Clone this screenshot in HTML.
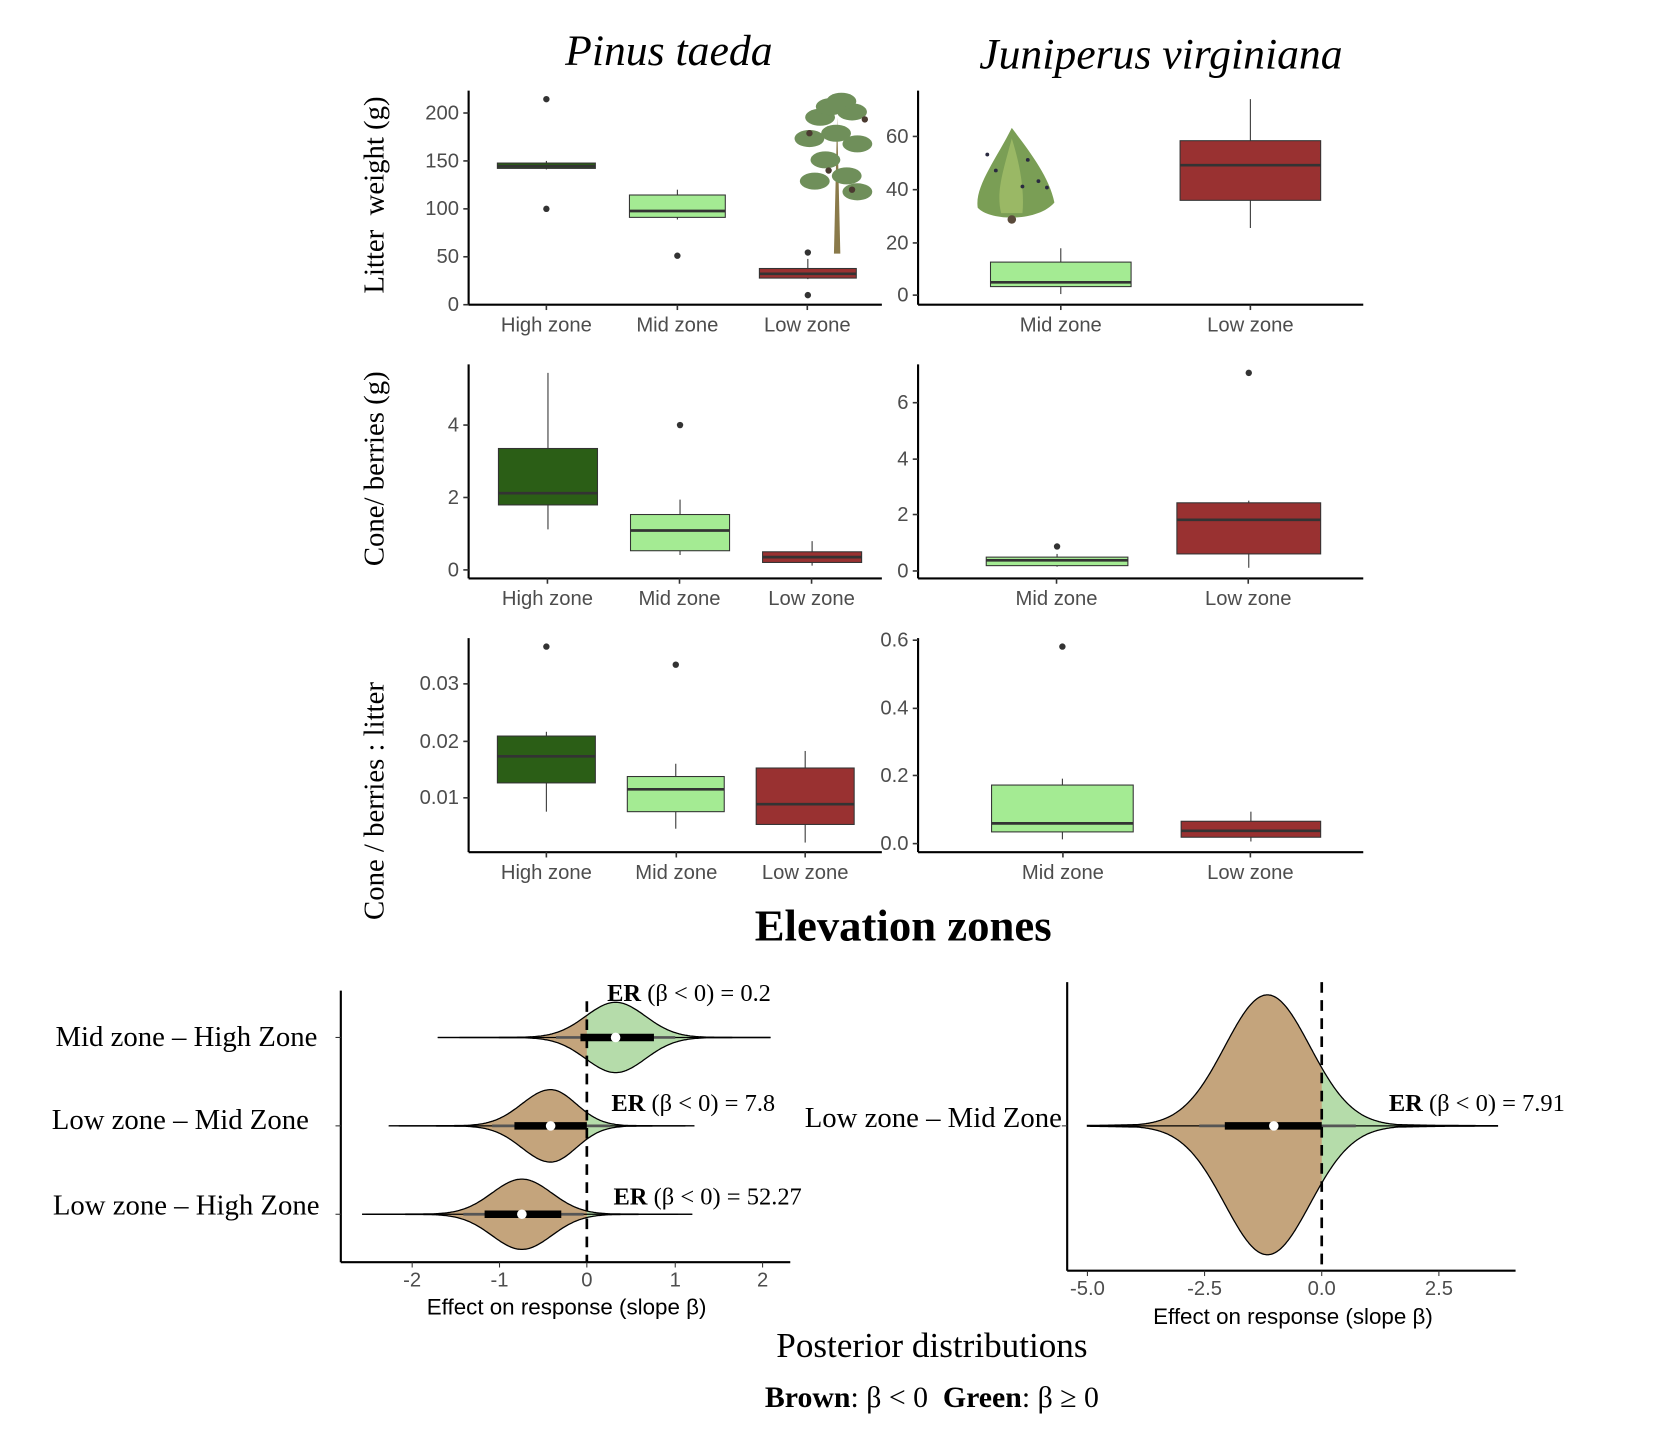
<!DOCTYPE html>
<html><head><meta charset="utf-8"><style>
html,body{margin:0;padding:0;background:#fff;}
svg{display:block;}
.t{font-family:"Liberation Sans",sans-serif;font-size:19px;fill:#4d4d4d;}
.s{font-family:"Liberation Serif",serif;fill:#000;}
.ax{font-family:"Liberation Sans",sans-serif;font-size:21px;fill:#000;}
</style></head><body>
<svg id="c" xmlns="http://www.w3.org/2000/svg" width="1670" height="1454" viewBox="0 0 1568 1365">
<rect width="1568" height="1365" fill="#fff"/>
<text class="s" x="628" y="61" font-size="41" font-style="italic" text-anchor="middle">Pinus taeda</text>
<text class="s" x="1090" y="64" font-size="41" font-style="italic" text-anchor="middle">Juniperus virginiana</text>
<text class="s" x="360" y="183" font-size="27" text-anchor="middle" transform="rotate(-90 360 183)" xml:space="preserve">Litter  weight (g)</text>
<text class="s" x="360" y="440" font-size="27" text-anchor="middle" transform="rotate(-90 360 440)">Cone/ berries (g)</text>
<text class="s" x="360" y="752" font-size="27" text-anchor="middle" transform="rotate(-90 360 752)">Cone / berries : litter</text>
<text class="s" x="848" y="883" font-size="42" font-weight="bold" text-anchor="middle">Elevation zones</text>
<text class="ax" x="532" y="1234" text-anchor="middle">Effect on response (slope β)</text>
<text class="ax" x="1214" y="1243" text-anchor="middle">Effect on response (slope β)</text>
<text class="s" x="875" y="1274" font-size="33" text-anchor="middle">Posterior distributions</text>
<text class="s" x="875" y="1321" font-size="28" text-anchor="middle" xml:space="preserve"><tspan font-weight="bold">Brown</tspan>: β &lt; 0  <tspan font-weight="bold">Green</tspan>: β ≥ 0</text>
<g class="s" font-size="27" text-anchor="end">
<text x="298" y="982">Mid zone – High Zone</text>
<text x="290" y="1060">Low zone – Mid Zone</text>
<text x="300" y="1140">Low zone – High Zone</text>
<text x="997" y="1058">Low zone – Mid Zone</text>
</g>
<g class="s" font-size="23">
<text x="570" y="940"><tspan font-weight="bold">ER</tspan> (β &lt; 0) = 0.2</text>
<text x="574" y="1043"><tspan font-weight="bold">ER</tspan> (β &lt; 0) = 7.8</text>
<text x="576" y="1131"><tspan font-weight="bold">ER</tspan> (β &lt; 0) = 52.27</text>
<text x="1304" y="1043"><tspan font-weight="bold">ER</tspan> (β &lt; 0) = 7.91</text>
</g>
</svg>
<script>
const S=document.getElementById('c'),NS='http://www.w3.org/2000/svg';
function el(t,a,txt){const e=document.createElementNS(NS,t);for(const k in a)e.setAttribute(k,a[k]);if(txt!==undefined)e.textContent=txt;S.appendChild(e);return e;}
function axes(x0,y0,yTop,xEnd,yt,xt){
 el('line',{x1:x0,y1:yTop,x2:x0,y2:y0,stroke:'#000','stroke-width':2});
 el('line',{x1:x0,y1:y0,x2:xEnd,y2:y0,stroke:'#000','stroke-width':2});
 yt.forEach(([l,y])=>{el('line',{x1:x0-5,y1:y,x2:x0,y2:y,stroke:'#333','stroke-width':1.5});el('text',{class:'t',x:x0-9,y:y+6,'text-anchor':'end'},l);});
 xt.forEach(([l,x])=>{el('line',{x1:x,y1:y0,x2:x,y2:y0+5,stroke:'#333','stroke-width':1.5});el('text',{class:'t',x:x,y:y0+25,'text-anchor':'middle'},l);});
}
function box(x1,x2,y1,y2,med,w1,w2,col,outs){
 const cx=(x1+x2)/2;
 el('line',{x1:cx,y1:w1,x2:cx,y2:w2,stroke:'#333','stroke-width':1});
 el('rect',{x:x1,y:y1,width:x2-x1,height:y2-y1,fill:col,stroke:'#333','stroke-width':1});
 el('line',{x1:x1,y1:med,x2:x2,y2:med,stroke:'#333','stroke-width':2.5});
 (outs||[]).forEach(y=>el('circle',{cx:cx,cy:y,r:3,fill:'#333'}));
}
const DG='#2b5e16',LG='#a4eb93',RD='#993131';
axes(440,286,85,828,[['200',106],['150',151],['100',196],['50',241],['0',286]],[['High zone',513],['Mid zone',636],['Low zone',758]]);
box(467,559,153,158,156,151,159,DG,[93,196]);
box(591,681,183,204,198,178,206,LG,[240]);
box(713,804,252,261,257,243,262,RD,[237,277]);
axes(862,286,85,1280,[['60',128],['40',178],['20',228],['0',277]],[['Mid zone',996],['Low zone',1174]]);
box(930,1062,246,269,265,233,276,LG,[]);
box(1108,1240,132,188,155,93,214,RD,[]);
axes(440,543,342,828,[['4',399],['2',467],['0',535]],[['High zone',514],['Mid zone',638],['Low zone',762]]);
box(468,561,421,474,463,350,497,DG,[]);
box(592,685,483,517,498,469,521,LG,[399]);
box(716,809,518,528,523,508,531,RD,[]);
axes(862,543,342,1280,[['6',378],['4',431],['2',483],['0',536]],[['Mid zone',992],['Low zone',1172]]);
box(926,1059,523,531,526,520,532,LG,[513]);
box(1105,1240,472,520,488,470,533,RD,[350]);
axes(440,800,599,828,[['0.03',642],['0.02',696],['0.01',749]],[['High zone',513],['Mid zone',635],['Low zone',756]]);
box(467,559,691,735,710,687,762,DG,[607]);
box(589,680,729,762,741,717,778,LG,[624]);
box(710,802,721,774,755,705,791,RD,[]);
axes(862,800,599,1280,[['0.6',601],['0.4',665],['0.2',728],['0.0',792]],[['Mid zone',998],['Low zone',1174]]);
box(931,1064,737,781,773,731,788,LG,[607]);
box(1109,1240,771,786,780,762,790,RD,[]);
(function(){
 el('path',{d:'M783 238 L786 110 L789 238 Z',fill:'#8a7a4a'});
 const g=[[770,110],[800,105],[760,130],[805,135],[775,150],[795,165],[765,170],[805,180],[785,125],[790,95],[780,100]];
 g.forEach(([x,y])=>el('ellipse',{cx:x,cy:y,rx:14,ry:8,fill:'#6f8f5a'}));
 [[760,125],[778,160],[800,178],[812,112]].forEach(([x,y])=>el('circle',{cx:x,cy:y,r:3,fill:'#4a3a30'}));
 el('path',{d:'M950 120 C935 150 915 175 918 195 C930 208 975 208 990 190 C985 165 965 140 950 120 Z',fill:'#7a9e55'});
 el('path',{d:'M950 130 C942 160 935 180 940 200 L960 200 C962 180 958 155 950 130 Z',fill:'#9ab865'});
 el('circle',{cx:950,cy:206,r:4,fill:'#5a4a3a'});
 [[927,145],[935,160],[965,150],[975,170],[983,176],[960,175]].forEach(([x,y])=>el('circle',{cx:x,cy:y,r:1.8,fill:'#2a2a40'}));
})();
el('line',{x1:320,y1:930,x2:320,y2:1185,stroke:'#000','stroke-width':2});
el('line',{x1:320,y1:1185,x2:742,y2:1185,stroke:'#000','stroke-width':2});
[['-2',387],['-1',469],['0',551],['1',634],['2',716]].forEach(([l,x])=>{el('line',{x1:x,y1:1185,x2:x,y2:1190,stroke:'#333'});el('text',{class:'t',x:x,y:1208,'text-anchor':'middle'},l);});
[974,1057,1140].forEach(y=>el('line',{x1:315,y1:y,x2:320,y2:y,stroke:'#333'}));
el('line',{x1:1002,y1:922,x2:1002,y2:1193,stroke:'#000','stroke-width':2});
el('line',{x1:1002,y1:1193,x2:1423,y2:1193,stroke:'#000','stroke-width':2});
[['-5.0',1021],['-2.5',1131],['0.0',1241],['2.5',1351]].forEach(([l,x])=>{el('line',{x1:x,y1:1193,x2:x,y2:1198,stroke:'#333'});el('text',{class:'t',x:x,y:1216,'text-anchor':'middle'},l);});
el('line',{x1:997,y1:1057,x2:1002,y2:1057,stroke:'#333'});
let cid=0;
function violin(y,xmin,xmax,m,hu,hd,sL,sR,zero,thick,thin,dot,lw){
 const up=[],dn=[];
 for(let x=xmin;x<=xmax;x+=1){const s=x<m?sL:sR;const f=Math.exp(-Math.pow((x-m)/s,2)/2);const t=0.12*Math.exp(-Math.abs(x-m)/(s*1.2));const v=Math.max(f,t);up.push([x,y-hu*v]);dn.push([x,y+hd*v]);}
 const d='M'+up.map(p=>p[0]+' '+p[1].toFixed(1)).join(' L')+' L'+dn.reverse().map(p=>p[0]+' '+p[1].toFixed(1)).join(' L')+' Z';
 const id='cl'+(cid++);
 const cp=el('clipPath',{id:id});const r=document.createElementNS(NS,'rect');r.setAttribute('x',0);r.setAttribute('y',0);r.setAttribute('width',zero);r.setAttribute('height',1365);cp.appendChild(r);
 el('path',{d:d,fill:'#b5dcaa'});
 el('path',{d:d,fill:'#c4a47c','clip-path':'url(#'+id+')'});
 el('path',{d:d,fill:'none',stroke:'#000','stroke-width':1.2});
 el('line',{x1:xmin,y1:y,x2:xmax,y2:y,stroke:'#000','stroke-width':1.2});
 el('line',{x1:thin[0],y1:y,x2:thin[1],y2:y,stroke:'#555','stroke-width':2.5});
 el('line',{x1:thick[0],y1:y,x2:thick[1],y2:y,stroke:'#000','stroke-width':lw});
 el('circle',{cx:dot,cy:y,r:4.5,fill:'#fff'});
}
violin(974,411,723,578,33,33,28,28,551,[545,614],[522,634],578,7);
violin(1057,365,652,517,34,34,27,24,551,[483,551],[462,573],517,7);
violin(1140,340,650,490,33,33,28,28,551,[455,527],[435,548],490,7);
violin(1057,1021,1406,1190,123,121,40,40,1241,[1150,1241],[1126,1273],1196,7);
el('line',{x1:551,y1:940,x2:551,y2:1185,stroke:'#000','stroke-width':2.5,'stroke-dasharray':'10 7'});
el('line',{x1:1241,y1:922,x2:1241,y2:1193,stroke:'#000','stroke-width':2.5,'stroke-dasharray':'10 7'});
</script>
</body></html>
